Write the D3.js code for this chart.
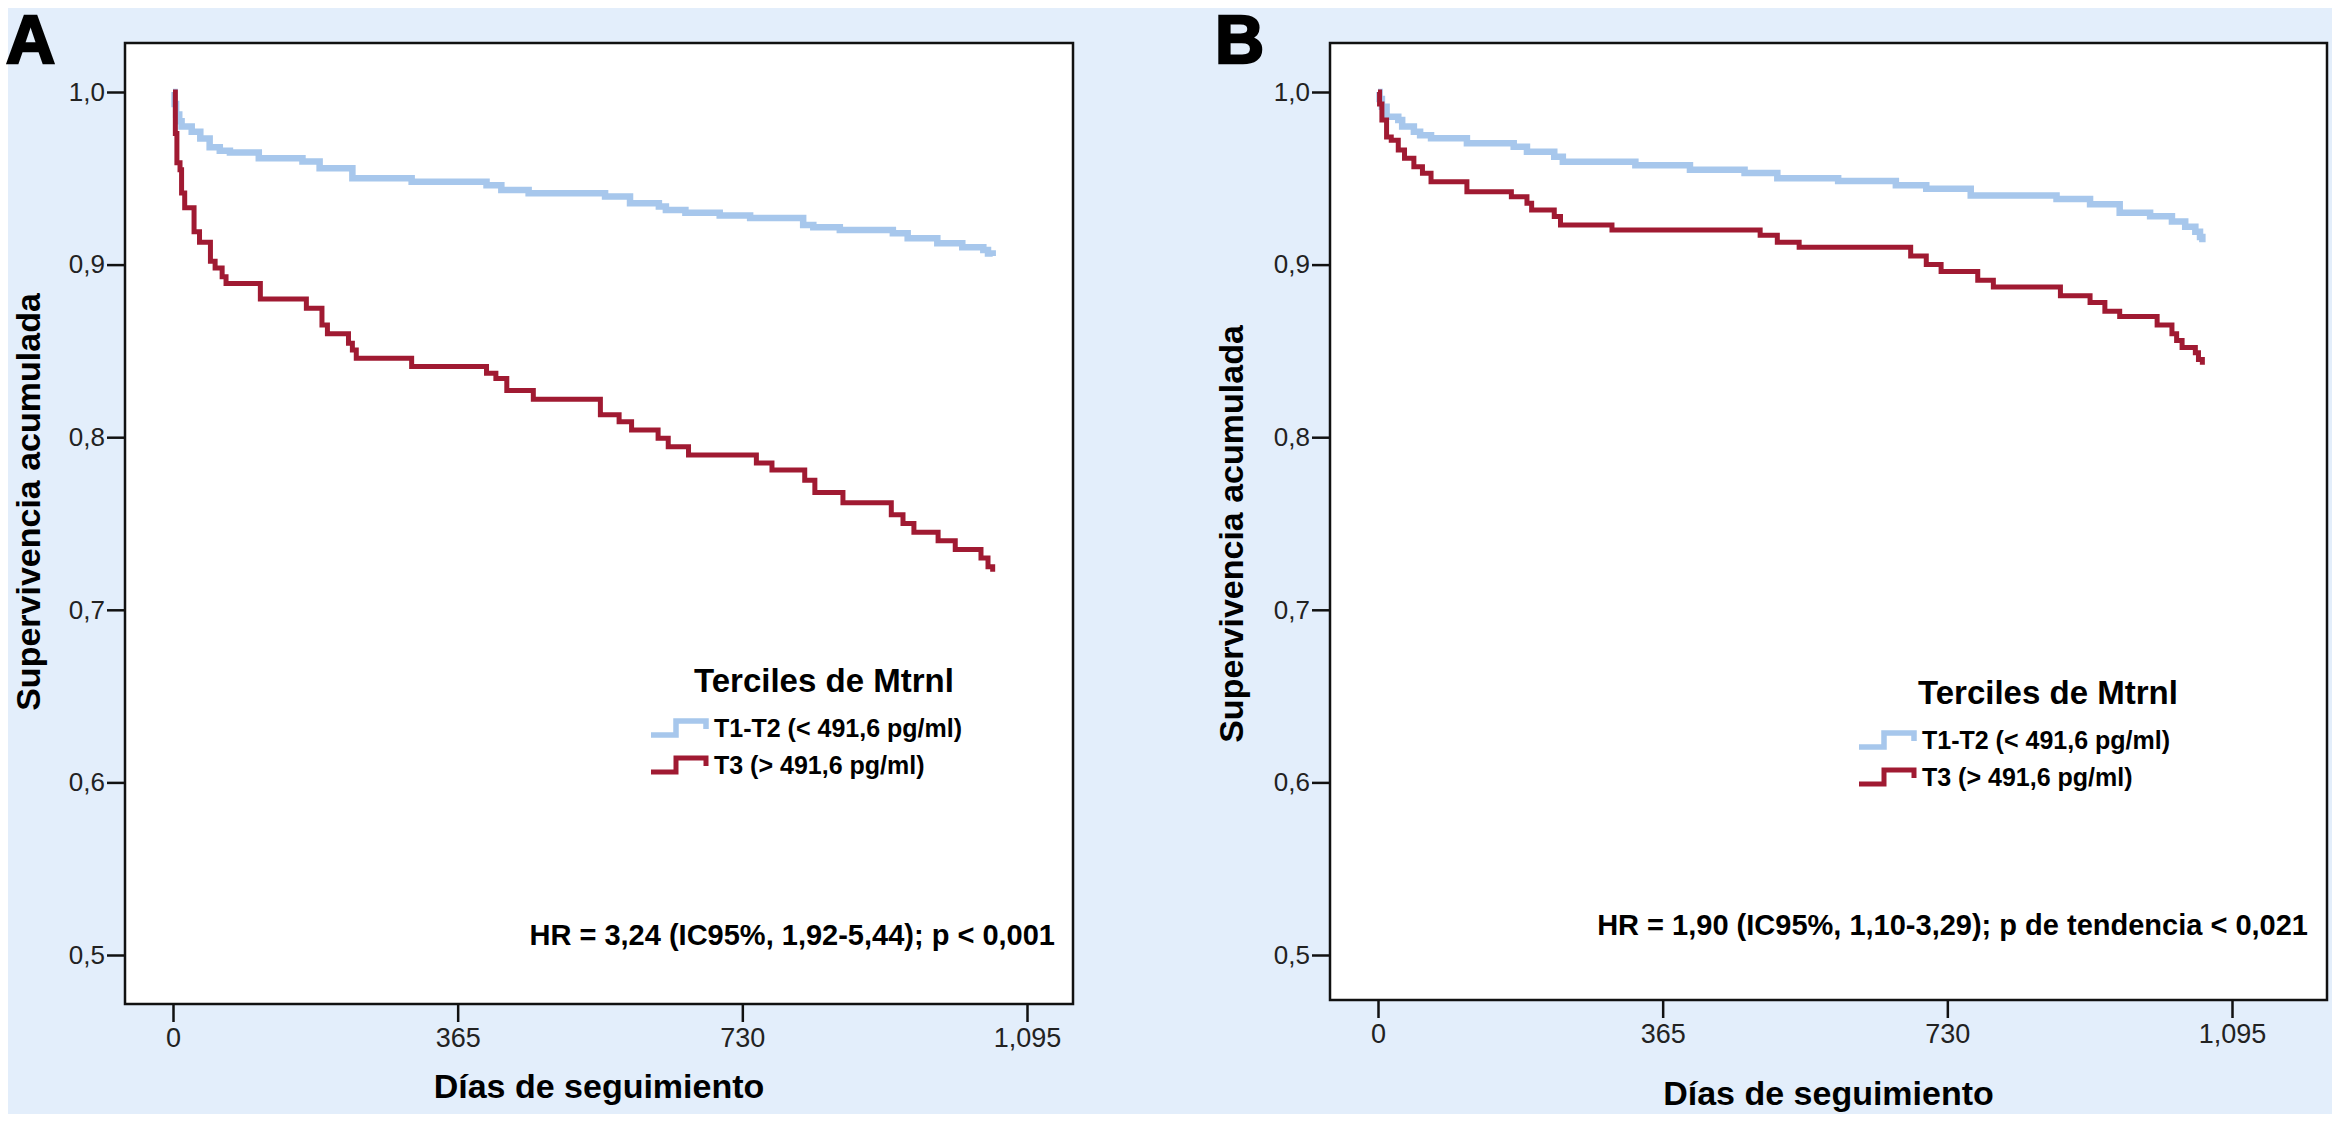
<html>
<head>
<meta charset="utf-8">
<title>Supervivencia acumulada - Terciles de Mtrnl</title>
<script src="https://d3js.org/d3.v7.min.js"></script>
<style>
  body { margin: 0; background: #ffffff; }
  text { font-family: "Liberation Sans", Arial, sans-serif; }
</style>
</head>
<body>
<script>

// --- datos (días, supervivencia) ---
const xTicks = [0, 365, 730, 1095];
const yTicks = [0.5, 0.6, 0.7, 0.8, 0.9, 1.0];
const seriesNames = ["T1-T2 (< 491,6 pg/ml)", "T3 (> 491,6 pg/ml)"];
const legendTitle = "Terciles de Mtrnl";

const blueA = [[0,1],[2,0.993],[4,0.987],[8,0.983],[11,0.980],[24,0.977],[35,0.973],[47,0.968],[60,0.966],[73,0.965],
  [110,0.9616],[166,0.9597],[188,0.9558],[230,0.950],[306,0.948],[402,0.946],[421,0.9432],[456,0.9413],
  [554,0.9394],[586,0.9356],[623,0.9336],[632,0.9316],[657,0.930],[701,0.9285],[740,0.927],[808,0.9229],
  [821,0.9216],[855,0.920],[923,0.9181],[942,0.9152],[980,0.9123],[1012,0.910],[1039,0.9085],[1045,0.9065],[1051,0.905]];

const redA = [[0,1],[3,0.976],[5,0.959],[9,0.955],[11,0.9415],[15,0.933],[27,0.919],[34,0.913],[48,0.902],[54,0.898],
  [63,0.893],[68,0.889],[112,0.880],[171,0.8747],[191,0.865],[198,0.860],[225,0.8544],[230,0.8505],[235,0.8457],
  [306,0.8409],[402,0.837],[414,0.834],[428,0.827],[462,0.822],[548,0.813],[572,0.809],[588,0.8042],[622,0.7994],
  [635,0.7945],[661,0.7897],[748,0.785],[768,0.781],[810,0.775],[823,0.768],[859,0.762],[921,0.755],[936,0.750],
  [950,0.745],[981,0.740],[1003,0.735],[1036,0.730],[1045,0.725],[1051,0.722]];

const blueB = [[0,1],[2,0.996],[5,0.9915],[11,0.9857],[26,0.9838],[31,0.980],[46,0.977],[54,0.975],[68,0.9732],
  [114,0.9703],[174,0.9683],[191,0.9654],[226,0.9625],[237,0.9596],[330,0.9575],[400,0.955],[470,0.953],[512,0.950],
  [590,0.9485],[664,0.946],[703,0.944],[760,0.940],[870,0.938],[913,0.935],[951,0.930],[990,0.928],[1018,0.925],
  [1035,0.922],[1048,0.919],[1054,0.916],[1057,0.913]];

const redB = [[0,1],[2,0.993],[5,0.9838],[11,0.974],[17,0.972],[26,0.9664],[34,0.9616],[46,0.9567],[57,0.9529],
  [68,0.948],[114,0.9422],[171,0.9393],[191,0.9355],[197,0.9316],[226,0.9278],[234,0.9229],[300,0.920],[490,0.917],
  [512,0.913],[540,0.910],[683,0.905],[703,0.900],[722,0.896],[769,0.891],[789,0.887],[875,0.882],[913,0.878],
  [932,0.873],[951,0.870],[999,0.865],[1018,0.860],[1024,0.856],[1031,0.852],[1048,0.849],[1052,0.845],[1057,0.842]];

const hrA = "HR = 3,24 (IC95%, 1,92-5,44); p < 0,001";
const hrB = "HR = 1,90 (IC95%, 1,10-3,29); p de tendencia < 0,021";

// --- layout ---
const W = 2341, H = 1124;
const blueColor = "#a7c7ec";
const redColor = "#a01a32";

const panels = [
  { letter: "A", letterX: 6, frame: {x0: 125, x1: 1073, y0: 43, y1: 1004}, xr: [173, 1027],
    blue: blueA, red: redA, hr: hrA, hrX: 1055, hrY: 945,
    legX: 651, legTitleX: 694, legY: 692, yTitleX: 40, yTitleY: 502, xTitleY: 1098 },
  { letter: "B", letterX: 1215, frame: {x0: 1330, x1: 2327, y0: 43, y1: 1000}, xr: [1378, 2232],
    blue: blueB, red: redB, hr: hrB, hrX: 2308, hrY: 935,
    legX: 1859, legTitleX: 1918, legY: 704, yTitleX: 1243, yTitleY: 534, xTitleY: 1105 }
];

const svg = d3.select("body").append("svg")
  .attr("width", W).attr("height", H);

svg.append("rect").attr("x", 8).attr("y", 8).attr("width", 2324).attr("height", 1106)
  .attr("fill", "#e3eefb");

const commaFmt = v => d3.format(".1f")(v).replace(".", ",");

panels.forEach(function(p) {
  const x = d3.scaleLinear().domain([0, 1095]).range(p.xr);
  const y = d3.scaleLinear().domain([0.5, 1.0]).range([955, 92]);
  const g = svg.append("g");

  // letra del panel
  g.append("text")
    .attr("x", p.letterX).attr("y", 63)
    .attr("font-size", 68).attr("font-weight", "bold")
    .attr("stroke", "#000").attr("stroke-width", 2.5)
    .text(p.letter);

  // marco
  g.append("rect")
    .attr("x", p.frame.x0).attr("y", p.frame.y0)
    .attr("width", p.frame.x1 - p.frame.x0).attr("height", p.frame.y1 - p.frame.y0)
    .attr("fill", "#fff").attr("stroke", "#111").attr("stroke-width", 2.5);

  // eje y
  const yAxis = g.append("g")
    .attr("transform", "translate(" + p.frame.x0 + ",0)")
    .call(d3.axisLeft(y).tickValues(yTicks).tickFormat(commaFmt).tickSize(18).tickPadding(2));
  yAxis.select(".domain").remove();
  yAxis.selectAll("line").attr("stroke", "#111").attr("stroke-width", 2.5);
  yAxis.selectAll("text").attr("font-size", 26).attr("fill", "#222")
    .attr("font-family", "Liberation Sans, Arial, sans-serif");

  // eje x
  const xAxis = g.append("g")
    .attr("transform", "translate(0," + p.frame.y1 + ")")
    .call(d3.axisBottom(x).tickValues(xTicks).tickFormat(d3.format(",")).tickSize(18).tickPadding(6));
  xAxis.select(".domain").remove();
  xAxis.selectAll("line").attr("stroke", "#111").attr("stroke-width", 2.5);
  xAxis.selectAll("text").attr("font-size", 27).attr("fill", "#222")
    .attr("font-family", "Liberation Sans, Arial, sans-serif");

  // títulos de ejes
  g.append("text")
    .attr("transform", "translate(" + p.yTitleX + "," + p.yTitleY + ") rotate(-90)")
    .attr("text-anchor", "middle")
    .attr("font-size", 34).attr("font-weight", "bold")
    .text("Supervivencia acumulada");

  g.append("text")
    .attr("x", (p.frame.x0 + p.frame.x1) / 2).attr("y", p.xTitleY)
    .attr("text-anchor", "middle")
    .attr("font-size", 34).attr("font-weight", "bold")
    .text("Días de seguimiento");

  // curvas Kaplan-Meier
  const line = d3.line()
    .x(d => x(d[0])).y(d => y(d[1]))
    .curve(d3.curveStepAfter);

  g.append("path").datum(p.blue)
    .attr("d", line).attr("fill", "none")
    .attr("stroke", blueColor).attr("stroke-width", 6.5);

  g.append("path").datum(p.red)
    .attr("d", line).attr("fill", "none")
    .attr("stroke", redColor).attr("stroke-width", 5);

  // leyenda
  g.append("text")
    .attr("x", p.legTitleX).attr("y", p.legY)
    .attr("font-size", 33).attr("font-weight", "bold")
    .text(legendTitle);

  [blueColor, redColor].forEach(function(c, i) {
    const by = p.legY + 45 + i * 37;
    const sx = p.legX;
    g.append("path")
      .attr("d", "M" + sx + "," + (by - 2) + "H" + (sx + 25) + "V" + (by - 16) + "H" + (sx + 55) + "V" + (by - 8))
      .attr("fill", "none").attr("stroke", c).attr("stroke-width", i === 0 ? 5.5 : 5);
    g.append("text")
      .attr("x", sx + 63).attr("y", by)
      .attr("font-size", 25).attr("font-weight", "bold")
      .text(seriesNames[i]);
  });

  // texto HR
  g.append("text")
    .attr("x", p.hrX).attr("y", p.hrY)
    .attr("text-anchor", "end")
    .attr("font-size", 29).attr("font-weight", "bold")
    .text(p.hr);
});

</script>
</body>
</html>
